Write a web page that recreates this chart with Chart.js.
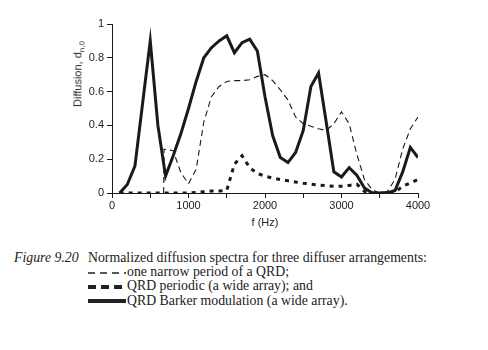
<!DOCTYPE html>
<html lang="en">
  <head>
    <meta charset="UTF-8" />
    <title>Figure 9.20</title>
    <script src="https://cdn.jsdelivr.net/npm/chart.js"></script>
    <style>
      body {
        margin: 0;
        background: #ffffff;
        width: 488px;
        height: 350px;
        overflow: hidden;
        position: relative;
      }
      .plot {
        position: absolute;
        left: 0;
        top: 0;
        width: 488px;
        height: 232px;
      }
      .ytitle {
        position: absolute;
        left: 79px;
        top: 74px;
        transform: translate(-50%, -50%) rotate(-90deg);
        font-family: "Liberation Sans", Arial, sans-serif;
        font-size: 11px;
        color: #222;
        white-space: nowrap;
      }
      .ytitle sub {
        font-size: 8px;
      }
      .caption {
        position: absolute;
        left: 14px;
        top: 251px;
        font-family: "Liberation Serif", "Times New Roman", serif;
        font-size: 13.8px;
        line-height: 14.2px;
        color: #222;
      }
      .caption .row {
        white-space: nowrap;
        height: 14.2px;
      }
      .caption .fig {
        display: inline-block;
        width: 74px;
        font-style: italic;
      }
      .caption .indent {
        display: inline-block;
        width: 74px;
      }
      .caption svg {
        vertical-align: middle;
        margin-right: 1px;
      }
    </style>
  </head>
  <body>
    <div class="plot"><canvas id="spectra" width="488" height="232"></canvas></div>
    <div class="ytitle">Diffusion, d<sub>n,0</sub></div>

    <div class="caption">
      <div class="row"><span class="fig">Figure 9.20</span>Normalized diffusion spectra for three diffuser arrangements:</div>
      <div class="row"><span class="indent"></span><svg width="38" height="8"><line x1="0" y1="4" x2="38" y2="4" stroke="#222" stroke-width="1.3" stroke-dasharray="7,5" /></svg>one narrow period of a QRD;</div>
      <div class="row"><span class="indent"></span><svg width="38" height="8"><line x1="0" y1="4" x2="38" y2="4" stroke="#222" stroke-width="4" stroke-dasharray="8,5" /></svg>QRD periodic (a wide array); and</div>
      <div class="row"><span class="indent"></span><svg width="38" height="8"><line x1="0" y1="4" x2="38" y2="4" stroke="#222" stroke-width="4" /></svg>QRD Barker modulation (a wide array).</div>
    </div>

    <script>
      // frequency grid (Hz) used by the two wide-array curves
      const freqs = [
        100, 200, 300, 400, 500, 600, 700, 800, 900, 1000,
        1100, 1200, 1300, 1400, 1500, 1600, 1700, 1800, 1900, 2000,
        2100, 2200, 2300, 2400, 2500, 2600, 2700, 2800, 2900, 3000,
        3100, 3200, 3300, 3400, 3500, 3600, 3700, 3800, 3900, 4000,
      ];

      // QRD Barker modulation (wide array)
      const barker = [
        0, 0.05, 0.16, 0.53, 0.9, 0.4, 0.1, 0.22, 0.35, 0.5,
        0.66, 0.8, 0.86, 0.9, 0.93, 0.83, 0.89, 0.91, 0.84, 0.57,
        0.34, 0.21, 0.18, 0.24, 0.37, 0.63, 0.71, 0.42, 0.125, 0.095,
        0.15, 0.105, 0.03, 0, 0, 0, 0.015, 0.125, 0.27, 0.21,
      ];

      // QRD periodic (wide array)
      const periodic = [
        0, 0, 0, 0, 0, 0, 0, 0, 0, 0,
        0.003, 0.008, 0.012, 0.012, 0.016, 0.17, 0.22, 0.15, 0.115, 0.1,
        0.088, 0.08, 0.072, 0.065, 0.058, 0.053, 0.047, 0.043, 0.04, 0.04,
        0.045, 0.052, 0.01, 0, 0, 0, 0.005, 0.04, 0.06, 0.08,
      ];

      // one narrow period of a QRD (starts just below 700 Hz)
      const narrowFreqs = [
        675, 680, 800, 900, 1000, 1100, 1200, 1300, 1400, 1500,
        1600, 1700, 1800, 1900, 2000, 2100, 2200, 2300, 2400, 2500,
        2600, 2700, 2800, 2900, 3000, 3100, 3200, 3300, 3400, 3500,
        3600, 3700, 3800, 3900, 4000,
      ];
      const narrow = [
        0, 0.26, 0.25, 0.12, 0.055, 0.14, 0.42, 0.57, 0.63, 0.66,
        0.665, 0.665, 0.67, 0.69, 0.7, 0.665, 0.61, 0.55, 0.45, 0.41,
        0.395, 0.38, 0.37, 0.41, 0.48, 0.41, 0.23, 0.08, 0.02, 0,
        0.01, 0.08, 0.26, 0.38, 0.45,
      ];

      const xTicks = [0, 1000, 2000, 3000, 4000];

      const pts = (xs, ys) => xs.map((x, i) => ({ x: x, y: ys[i] }));
      const ink = "#1a1a1a";
      const axisFont = { family: "'Liberation Sans', Arial, sans-serif", size: 11 };

      new Chart(document.getElementById("spectra"), {
        type: "line",
        data: {
          datasets: [
            {
              label: "one narrow period of a QRD",
              data: pts(narrowFreqs, narrow),
              borderColor: ink,
              borderWidth: 1.1,
              borderDash: [6, 4],
            },
            {
              label: "QRD periodic (a wide array)",
              data: pts(freqs, periodic),
              borderColor: ink,
              borderWidth: 3,
              borderDash: [4, 5],
            },
            {
              label: "QRD Barker modulation (a wide array)",
              data: pts(freqs, barker),
              borderColor: ink,
              borderWidth: 3,
            },
          ],
        },
        options: {
          responsive: false,
          animation: false,
          elements: {
            point: { radius: 0 },
            line: { tension: 0, borderJoinStyle: "miter" },
          },
          layout: { padding: { left: 0, top: 24, right: 70, bottom: 0 } },
          plugins: {
            legend: { display: false },
            tooltip: { enabled: false },
          },
          scales: {
            x: {
              type: "linear",
              min: 0,
              max: 4000,
              afterFit: (s) => {
                s.height = 39;
              },
              ticks: {
                stepSize: 500,
                autoSkip: false,
                maxRotation: 0,
                padding: 1,
                color: "#222",
                font: axisFont,
                callback: (v) => (xTicks.includes(v) ? String(v) : ""),
              },
              grid: {
                drawOnChartArea: false,
                tickLength: 5,
                color: ink,
              },
              border: { color: ink, width: 1 },
              title: {
                display: true,
                text: "f (Hz)",
                color: "#222",
                font: axisFont,
                padding: { top: 0, bottom: 2 },
              },
            },
            y: {
              min: 0,
              max: 1,
              afterFit: (s) => {
                s.width = 112;
              },
              ticks: {
                stepSize: 0.2,
                padding: 3,
                color: "#222",
                font: axisFont,
                callback: (v) => String(Number(v.toFixed(1))),
              },
              grid: {
                drawOnChartArea: false,
                tickLength: 5,
                color: ink,
              },
              border: { color: ink, width: 1 },
            },
          },
        },
      });
    </script>
  </body>
</html>
